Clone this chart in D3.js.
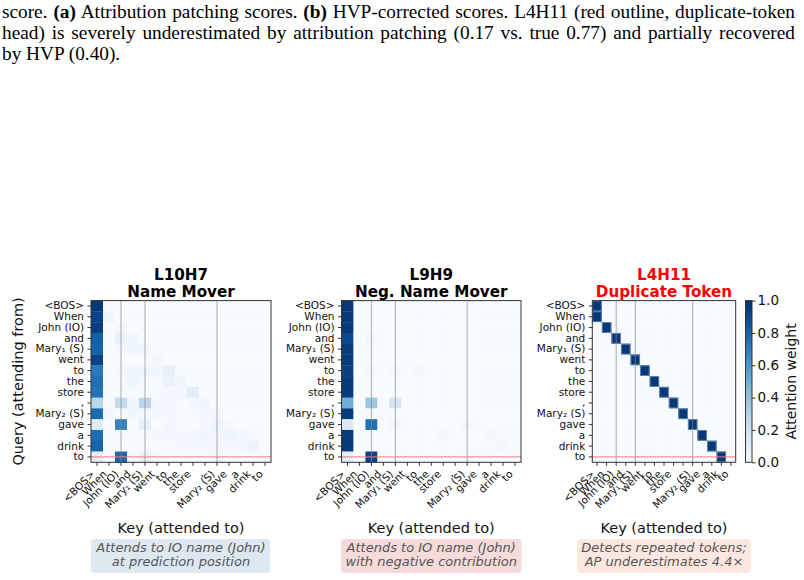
<!DOCTYPE html>
<html>
<head>
<meta charset="utf-8">
<script src="https://cdn.jsdelivr.net/npm/d3@7"></script>
<style>
  body { margin: 0; background: #fff; }
  #page { position: relative; width: 804px; height: 580px; overflow: hidden; }
  .cap { position: absolute; left: 2px; width: 793px; font-family: "Liberation Serif", "Times New Roman", serif;
         font-size: 19.3px; line-height: 21.3px; white-space: nowrap; text-align: justify; text-align-last: justify; color: #000; }
  .cap.last { text-align-last: left; }
  svg { position: absolute; left: 0; top: 0; }
  svg text { font-family: "DejaVu Sans", sans-serif; }
</style>
</head>
<body>
<div id="page"></div>
<script>
const tokens = ['<BOS>', 'When', 'John (IO)', 'and', 'Mary\u2081 (S)', 'went', 'to', 'the', 'store', ',',
    'Mary\u2082 (S)', 'gave', 'a', 'drink', 'to'];

const captionLines = [
    ['score. ', ['(a)'], ' Attribution patching scores. ', ['(b)'], ' HVP-corrected scores. L4H11 (red outline, duplicate-token'],
    ['head) is severely underestimated by attribution patching (0.17 vs. true 0.77) and partially recovered'],
    ['by HVP (0.40).']
];

const titles = [['L10H7', 'Name Mover'], ['L9H9', 'Neg. Name Mover'], ['L4H11', 'Duplicate Token']];
const notes = [
    ['Attends to IO name (John)', 'at prediction position'],
    ['Attends to IO name (John)', 'with negative contribution'],
    ['Detects repeated tokens;', 'AP underestimates 4.4\u00d7']
];

// attention rows (query) x cols (key), lower triangle
const l10h7 = [
    [0.97],
    [0.93, 0.04],
    [0.95, 0.00, 0.03],
    [0.82, 0.00, 0.07, 0.04],
    [0.81, 0.00, 0.02, 0.04, 0.04],
    [0.93, 0.00, 0.00, 0.00, 0.00, 0.03],
    [0.72, 0.00, 0.02, 0.04, 0.04, 0.04, 0.08],
    [0.76, 0.00, 0.00, 0.04, 0.01, 0.01, 0.07, 0.04],
    [0.74, 0.00, 0.00, 0.01, 0.01, 0.01, 0.02, 0.02, 0.10],
    [0.28, 0.00, 0.25, 0.04, 0.28, 0.02, 0.02, 0.01, 0.02, 0.04],
    [0.78, 0.03, 0.00, 0.04, 0.02, 0.02, 0.02, 0.01, 0.01, 0.02, 0.03],
    [0.12, 0.00, 0.68, 0.00, 0.08, 0.00, 0.02, 0.01, 0.01, 0.02, 0.05, 0.02],
    [0.76, 0.00, 0.00, 0.01, 0.01, 0.02, 0.03, 0.02, 0.03, 0.04, 0.03, 0.05, 0.03],
    [0.80, 0.00, 0.00, 0.00, 0.00, 0.00, 0.01, 0.02, 0.02, 0.02, 0.02, 0.02, 0.02, 0.06],
    [0.10, 0.00, 0.78, 0.02, 0.07, 0.02, 0.01, 0.01, 0.01, 0.01, 0.03, 0.01, 0.01, 0.01, 0.01]
];
const l9h9 = [
    [0.97],
    [0.97, 0.00],
    [0.97, 0.00, 0.00],
    [0.90, 0.00, 0.03, 0.00],
    [0.95, 0.00, 0.01, 0.00, 0.00],
    [0.96, 0.00, 0.00, 0.00, 0.00, 0.00],
    [0.94, 0.00, 0.02, 0.00, 0.02, 0.00, 0.02],
    [0.96, 0.00, 0.00, 0.00, 0.00, 0.00, 0.00, 0.00],
    [0.96, 0.00, 0.00, 0.00, 0.00, 0.00, 0.00, 0.00, 0.00],
    [0.50, 0.00, 0.38, 0.00, 0.17, 0.00, 0.00, 0.00, 0.00, 0.00],
    [0.96, 0.00, 0.01, 0.00, 0.00, 0.00, 0.00, 0.00, 0.00, 0.00, 0.00],
    [0.15, 0.00, 0.75, 0.00, 0.03, 0.00, 0.00, 0.00, 0.00, 0.00, 0.02, 0.00],
    [0.96, 0.00, 0.00, 0.00, 0.00, 0.00, 0.00, 0.00, 0.02, 0.00, 0.00, 0.00, 0.02],
    [0.96, 0.00, 0.00, 0.00, 0.00, 0.00, 0.00, 0.00, 0.00, 0.00, 0.00, 0.00, 0.00, 0.02],
    [0.10, 0.00, 0.93, 0.00, 0.01, 0.00, 0.00, 0.00, 0.00, 0.00, 0.01, 0.00, 0.00, 0.00, 0.00]
];
// L4H11: each query sits on the key one step back
const l4h11Cols = [0, 0, 1, 2, 3, 4, 5, 6, 7, 8, 9, 10, 11, 12, 13];
const l4h11Vals = [0.97, 0.97, 0.97, 0.97, 0.97, 0.97, 0.97, 0.97, 0.97, 0.97, 0.97, 0.97, 0.97, 0.97, 0.97];

const markerCols = [2, 4, 10];   // John (IO), Mary1, Mary2
const predRow = 14;
const cbTicks = [0, 0.2, 0.4, 0.6, 0.8, 1.0];

const noteFills = ['#dfe8f1', '#f7dada', '#fde8e1'];
const titleColors = ['#000', '#000', '#ff0000'];

const layout = [
    { x0: 91, x1: 271 },
    { x0: 341.5, x1: 521 },
    { x0: 592.3, x1: 735.7 }
];
const plotTop = 300.6, plotBottom = 462.3;

const toCells = (rows) => {
    const cells = [];
    tokens.forEach((_, r) => tokens.forEach((__, c) => {
        cells.push({ r, c, v: rows[r][c] || 0 });
    }));
    return cells;
};
const l4h11 = tokens.map((_, r) => {
    const row = tokens.map(() => 0);
    row[l4h11Cols[r]] = l4h11Vals[r];
    return row;
});
const matrices = [l10h7, l9h9, l4h11];

const color = d3.scaleSequential(d3.interpolateBlues).domain([0, 1]);

const page = d3.select('#page');
captionLines.forEach((parts, i) => {
    const div = page.append('div')
        .attr('class', 'cap' + (i === captionLines.length - 1 ? ' last' : ''))
        .style('top', (0.5 + i * 21.3) + 'px');
    parts.forEach(p => {
        if (Array.isArray(p)) div.append('b').text(p[0]);
        else div.append('span').text(p);
    });
});

const svg = page.append('svg').attr('width', 804).attr('height', 580);

const y = d3.scaleBand().domain(d3.range(tokens.length)).range([plotTop, plotBottom]);

layout.forEach((L, k) => {
    const x = d3.scaleBand().domain(d3.range(tokens.length)).range([L.x0, L.x1]);
    const g = svg.append('g').attr('class', 'panel');
    const cx = (L.x0 + L.x1) / 2;

    g.selectAll('rect.cell')
        .data(toCells(matrices[k]))
        .join('rect')
        .attr('class', 'cell')
        .attr('x', d => x(d.c))
        .attr('y', d => y(d.r))
        .attr('width', x.bandwidth() + 0.3)
        .attr('height', y.bandwidth() + 0.3)
        .attr('fill', d => color(d.v));

    if (k === 2) {
        g.selectAll('rect.hi')
            .data(toCells(matrices[k]).filter(d => d.v > 0.5))
            .join('rect')
            .attr('class', 'hi')
            .attr('x', d => x(d.c) + 0.5)
            .attr('y', d => y(d.r) + 0.5)
            .attr('width', x.bandwidth() - 1)
            .attr('height', y.bandwidth() - 1)
            .attr('fill', 'none')
            .attr('stroke', '#6f8fb5')
            .attr('stroke-width', 0.8);
    }

    g.selectAll('line.mark')
        .data(markerCols)
        .join('line')
        .attr('class', 'mark')
        .attr('x1', d => x(d) + x.bandwidth() / 2)
        .attr('x2', d => x(d) + x.bandwidth() / 2)
        .attr('y1', plotTop).attr('y2', plotBottom)
        .attr('stroke', '#8a8a8a').attr('stroke-opacity', 0.7).attr('stroke-width', 1);

    g.append('line')
        .attr('x1', L.x0).attr('x2', L.x1)
        .attr('y1', y(predRow) + y.bandwidth() / 2)
        .attr('y2', y(predRow) + y.bandwidth() / 2)
        .attr('stroke', '#f07a7a').attr('stroke-width', 1);

    g.append('rect')
        .attr('x', L.x0).attr('y', plotTop)
        .attr('width', L.x1 - L.x0).attr('height', plotBottom - plotTop)
        .attr('fill', 'none').attr('stroke', '#333').attr('stroke-width', 1);

    const xAxis = g.append('g')
        .attr('transform', `translate(0,${plotBottom})`)
        .call(d3.axisBottom(x).tickSize(3.5).tickFormat(i => tokens[i]));
    xAxis.select('.domain').remove();
    xAxis.selectAll('line').attr('stroke', '#333');
    xAxis.selectAll('text')
        .attr('font-family', 'DejaVu Sans')
        .attr('font-size', 10.5)
        .attr('fill', '#111')
        .attr('x', 0).attr('y', 0).attr('dy', null)
        .attr('text-anchor', 'end')
        .attr('transform', 'translate(-1.5,12.5) rotate(-45)');

    const yAxis = g.append('g')
        .attr('transform', `translate(${L.x0},0)`)
        .call(d3.axisLeft(y).tickSize(3.5).tickPadding(3.5).tickFormat(i => tokens[i]));
    yAxis.select('.domain').remove();
    yAxis.selectAll('line').attr('stroke', '#333');
    yAxis.selectAll('text')
        .attr('font-family', 'DejaVu Sans')
        .attr('font-size', 10.5)
        .attr('fill', '#111');

    g.append('text')
        .attr('x', cx).attr('y', 280.3)
        .attr('text-anchor', 'middle')
        .attr('font-size', 15.2).attr('font-weight', 'bold')
        .attr('fill', titleColors[k])
        .text(titles[k][0]);
    g.append('text')
        .attr('x', cx).attr('y', 297)
        .attr('text-anchor', 'middle')
        .attr('font-size', 15.2).attr('font-weight', 'bold')
        .attr('fill', titleColors[k])
        .text(titles[k][1]);

    g.append('text')
        .attr('x', cx).attr('y', 533)
        .attr('text-anchor', 'middle')
        .attr('font-size', 14.5).attr('fill', '#111')
        .text('Key (attended to)');

    const box = g.append('rect').attr('rx', 4).attr('fill', noteFills[k]);
    const nt = g.append('text')
        .attr('text-anchor', 'middle')
        .attr('font-size', 13).attr('font-style', 'italic')
        .attr('fill', '#555');
    notes[k].forEach((line, i) => {
        nt.append('tspan').attr('x', cx).attr('y', 551.5 + i * 14.2).text(line);
    });
    const bb = nt.node().getBBox();
    box.attr('x', bb.x - 4.5).attr('y', 539)
        .attr('width', bb.width + 9).attr('height', 34);
});

svg.append('text')
    .attr('transform', `translate(23,${(plotTop + plotBottom) / 2}) rotate(-90)`)
    .attr('text-anchor', 'middle')
    .attr('font-size', 14.5).attr('fill', '#111')
    .text('Query (attending from)');

// colorbar
const cbX = 745.5, cbW = 6.5;
const defs = svg.append('defs');
const grad = defs.append('linearGradient').attr('id', 'cb')
    .attr('x1', 0).attr('y1', 1).attr('x2', 0).attr('y2', 0);
grad.selectAll('stop')
    .data(d3.range(0, 1.0001, 0.05))
    .join('stop')
    .attr('offset', d => d)
    .attr('stop-color', d => color(d));
svg.append('rect')
    .attr('x', cbX).attr('y', plotTop).attr('width', cbW).attr('height', plotBottom - plotTop)
    .attr('fill', 'url(#cb)').attr('stroke', '#333').attr('stroke-width', 1);
const cbScale = d3.scaleLinear().domain([0, 1]).range([plotBottom, plotTop]);
const cbAxis = svg.append('g')
    .attr('transform', `translate(${cbX + cbW},0)`)
    .call(d3.axisRight(cbScale).tickValues(cbTicks).tickFormat(d3.format('.1f')).tickSize(3.5).tickPadding(2));
cbAxis.select('.domain').remove();
cbAxis.selectAll('line').attr('stroke', '#333');
cbAxis.selectAll('text')
    .attr('font-family', 'DejaVu Sans').attr('font-size', 13.5).attr('fill', '#111');
svg.append('text')
    .attr('transform', `translate(796,${(plotTop + plotBottom) / 2}) rotate(-90)`)
    .attr('text-anchor', 'middle')
    .attr('font-size', 14).attr('fill', '#111')
    .text('Attention weight');
</script>
</body>
</html>
